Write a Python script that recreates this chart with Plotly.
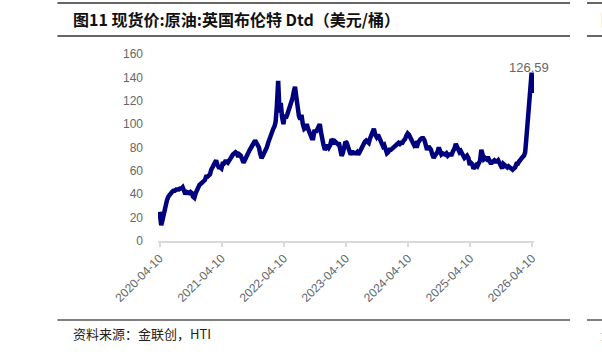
import calendar
import datetime as dt
import plotly.graph_objects as go

# ---- data: Dated Brent spot price (USD/bbl), weekly-ish, one sub-list per month ----
p2020 = [  # Apr..Dec 2020 (April starts on the 10th)
    [25, 18, 13.5, 17], [21, 28, 32, 35], [38, 40, 41, 42], [43, 43, 44, 44],
    [44, 45, 45, 46], [43, 40, 42, 41], [41, 42, 41, 38], [37, 41, 44, 47],
    [48, 49, 51, 51],
]
p2021 = [
    [52, 55, 55, 56], [57, 61, 63, 66], [68, 69, 65, 63], [63, 62, 66, 66],
    [68, 68, 67, 69], [71, 72, 74, 75], [76, 75, 72, 74], [73, 70, 67, 69],
    [72, 73, 75, 78], [80, 83, 85, 86], [84, 82, 80, 75], [71, 73, 75, 77],
]
p2022 = [
    [80, 84, 88, 90], [93, 96, 98, 102], [115, 137, 110, 118], [106, 100, 108, 105],
    [108, 112, 113, 118], [122, 128, 132, 124], [114, 107, 104, 108], [100, 96, 97, 100],
    [96, 92, 90, 88], [88, 95, 93, 95], [99, 100, 93, 86], [82, 78, 81, 82],
]
p2023 = [
    [80, 82, 87, 86], [83, 85, 84, 83], [84, 80, 73, 75], [80, 85, 84, 80],
    [76, 74, 76, 76], [75, 75, 76, 74], [76, 79, 80, 83], [85, 86, 85, 84],
    [88, 92, 94, 96], [91, 89, 91, 88], [85, 82, 81, 82], [79, 75, 76, 78],
]
p2024 = [
    [78, 79, 79, 81], [82, 83, 84, 83], [84, 84, 86, 87], [90, 92, 91, 89],
    [85, 84, 82, 83], [80, 84, 86, 87], [88, 88, 86, 83], [78, 81, 80, 78],
    [74, 71, 73, 74], [76, 80, 76, 74], [75, 74, 74, 75], [73, 74, 74, 74],
]
p2025 = [
    [77, 79, 83, 80], [77, 76, 77, 75], [72, 71, 72, 73], [71, 65, 67, 66],
    [62, 64, 65, 64], [66, 69, 78, 72], [70, 71, 70, 72], [70, 67, 67, 68],
    [69, 68, 68, 69], [67, 64, 62, 66], [65, 64, 63, 64], [63, 62, 61, 62],
]
p2026 = [  # Jan..Apr 2026
    [63, 66, 66, 68], [70, 71, 72, 73], [76, 86, 98, 108, 118], [130, 144, 126.59],
]
x_ticks = ["2020-04-10", "2021-04-10", "2022-04-10", "2023-04-10",
           "2024-04-10", "2025-04-10", "2026-04-10"]
y_ticks = [0, 20, 40, 60, 80, 100, 120, 140, 160]

title_text = "图11 现货价:原油:英国布伦特 Dtd（美元/桶）"
source_text = "资料来源：金联创，HTI"


def month_dates(year, month, n, start_day=1, end_day=None):
    last = calendar.monthrange(year, month)[1] if end_day is None else end_day
    span = last - start_day + 1
    return [dt.date(year, month, start_day) + dt.timedelta(days=round(i * span / n))
            for i in range(n)]


dates, vals = [], []
for year, first_month, block in [(2020, 4, p2020), (2021, 1, p2021), (2022, 1, p2022),
                                 (2023, 1, p2023), (2024, 1, p2024), (2025, 1, p2025),
                                 (2026, 1, p2026)]:
    for k, mv in enumerate(block):
        m = first_month + k
        if year == 2020 and m == 4:
            ds = month_dates(year, m, len(mv), start_day=10)
        elif year == 2026 and m == 4:
            ds = month_dates(year, m, len(mv), start_day=3, end_day=16)
        else:
            ds = month_dates(year, m, len(mv))
        dates += ds
        vals += mv

# ---- layout geometry (pixels) ----
W, H = 602, 354
ML, MR, MT, MB = 158.47, 67.96, 54, 113
PW, PH = W - ML - MR, H - MT - MB


def px(xp):
    return (xp - ML) / PW


def py(yp):
    return (H - MB - yp) / PH


fig = go.Figure()
fig.add_trace(go.Scatter(
    x=dates, y=vals, mode="lines",
    line=dict(color="#00007F", width=4.5),
    hoverinfo="skip", showlegend=False,
))

fig.add_annotation(
    x=dates[-1], y=max(vals), xref="x", yref="y",
    text=f"{vals[-1]:.2f}", showarrow=False, yanchor="bottom", xshift=-3, yshift=-4,
    font=dict(family="Liberation Sans, Arial", size=13, color="#666666"),
)

# title / footer
fig.add_annotation(x=px(72), y=py(19), xref="paper", yref="paper", text=title_text,
                   showarrow=False, xanchor="left", yanchor="middle",
                   font=dict(family="Noto Sans CJK SC", size=16, color="#111111", weight="bold"))
fig.add_annotation(x=px(72), y=py(333), xref="paper", yref="paper", text=source_text,
                   showarrow=False, xanchor="left", yanchor="middle",
                   font=dict(family="Noto Sans CJK SC", size=13, color="#222222"))
fig.add_annotation(x=px(599), y=py(19), xref="paper", yref="paper", text="图",
                   showarrow=False, xanchor="left", yanchor="middle",
                   font=dict(family="Noto Sans CJK SC", size=16, color="#111111", weight="bold"))
fig.add_annotation(x=px(599), y=py(333), xref="paper", yref="paper", text="资",
                   showarrow=False, xanchor="left", yanchor="middle",
                   font=dict(family="Noto Sans CJK SC", size=13, color="#222222"))

for (x0, x1) in [(58, 570), (587, 602)]:
    for (yy, col) in [(3, "#333333"), (36, "#333333"), (320, "#555555")]:
        fig.add_shape(type="line", xref="paper", yref="paper",
                      x0=px(x0), x1=px(x1), y0=py(yy), y1=py(yy),
                      line=dict(color=col, width=1.5))

fig.update_layout(
    width=W, height=H,
    margin=dict(l=ML, r=MR, t=MT, b=MB, pad=0),
    paper_bgcolor="white", plot_bgcolor="white",
    xaxis=dict(
        type="date", range=["2020-04-01", "2026-04-22"],
        tickmode="array", tickvals=x_ticks, ticktext=x_ticks, tickangle=-45,
        showgrid=False, zeroline=False,
        showline=True, linecolor="#D9D9D9", linewidth=1.5,
        ticks="outside", ticklen=4, tickcolor="#D9D9D9", tickwidth=1.5,
        tickfont=dict(family="Liberation Sans, Arial", size=12, color="#666666"),
    ),
    yaxis=dict(
        range=[0, 160], tickmode="array", tickvals=y_ticks,
        showgrid=False, zeroline=False, showline=False, ticks="",
        ticklabelstandoff=14,
        tickfont=dict(family="Liberation Sans, Arial", size=12, color="#666666"),
    ),
)

fig.write_html("out.html")
